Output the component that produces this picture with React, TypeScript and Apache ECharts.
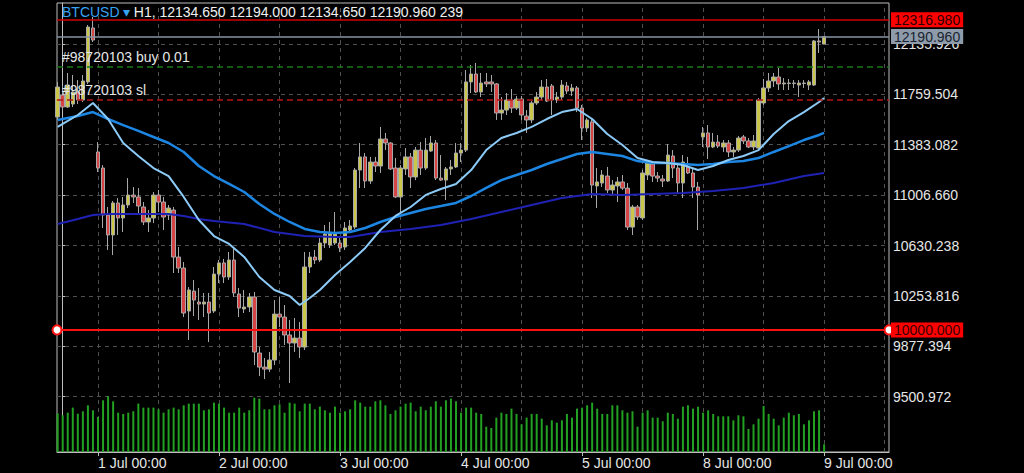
import { useEffect, useRef } from 'react';
import * as echarts from 'echarts';

// ---- data (hourly bars, index 0 = 30 Jun 17:00; first bar index is -1) ----
const FIRST_INDEX = -1;
const opens = [11590,11754,11665,11687,11777,11717,11852,12255,11329,11209,10858,10709,10948,10836,10933,11007,10993,10918,10806,10836,11007,10955,10858,10895,10544,10462,10141,10290,10208,10193,10208,10141,10417,10500,10395,10522,10268,10156,10171,10246,9827,9722,9707,9775,10118,10096,9962,9902,9939,9872,10470,10544,10522,10649,10634,10649,10649,10619,10746,10768,11194,11292,11112,11254,11224,11426,11396,11209,10993,11202,11292,11142,11343,11209,11336,11396,11134,11119,11202,11217,11321,11343,11852,11911,11777,11852,11852,11837,11620,11642,11717,11657,11724,11597,11568,11695,11739,11814,11822,11717,11739,11822,11784,11807,11657,11508,11553,11075,11097,11149,11045,11075,11105,11059,10768,10918,10836,11157,11239,11149,11127,11112,11299,11209,11097,11217,11172,11067,11441,11471,11366,11403,11366,11396,11329,11343,11441,11411,11366,11358,11695,11807,11859,11889,11837,11840,11844,11829,11840,11829,11829,12158,12134.65];
const closes = [11814,11665,11829,11777,11717,11859,12262,12165,11209,10858,10709,10948,10836,10933,11007,10993,10925,10806,10836,11007,10955,10843,10910,10544,10462,10126,10298,10223,10193,10208,10126,10417,10500,10395,10522,10276,10163,10171,10246,9835,9722,9707,9775,10118,10096,9962,9902,9939,9872,10470,10544,10522,10649,10716,10724,10724,10612,10761,10776,11194,11292,11112,11254,11224,11426,11396,11202,10993,11209,11292,11142,11343,11209,11343,11396,11134,11119,11202,11217,11321,11343,11852,11911,11777,11844,11837,11837,11620,11642,11717,11657,11724,11605,11568,11695,11739,11814,11710,11717,11739,11829,11784,11807,11657,11508,11568,11082,11105,11157,11045,11082,11105,11059,10768,10918,10843,11172,11247,11149,11134,11112,11306,11209,11097,11254,11172,11067,11007,11471,11366,11403,11373,11396,11329,11343,11433,11411,11366,11411,11717,11807,11859,11889,11837,11844,11844,11840,11844,11844,11852,12158,12150,12190.96];
const lows = [11568,11642,11657,11665,11687,11702,11837,12150,11179,10761,10597,10559,10709,10731,10910,10948,10858,10783,10731,10798,10880,10746,10821,10425,10425,10096,9924,10103,10074,10096,9909,10126,10350,10350,10373,10246,10096,10126,10133,9737,9655,9633,9685,9737,10021,9887,9603,9835,9790,9850,10425,10492,10507,10612,10612,10634,10582,10597,10731,10754,11059,11059,11090,11179,11172,11343,11194,10985,10880,11157,11059,11119,11157,11194,11329,11119,11112,10970,11157,11209,11254,11329,11769,11769,11739,11814,11777,11568,11568,11605,11620,11642,11568,11471,11545,11680,11717,11702,11605,11695,11717,11762,11747,11627,11418,11478,10985,10910,11067,11022,11007,10955,11045,10746,10709,10821,10821,11119,11105,11105,11067,11105,11134,11022,10985,11164,10985,10746,11366,11276,11358,11358,11329,11291,11291,11329,11388,11358,11343,11343,11680,11777,11814,11792,11792,11792,11807,11739,11807,11792,11822,12068,12134.65];
const highs = [11852,11822,11919,11904,11866,11904,12277,12337,11403,11231,10918,10963,10985,10993,11134,11067,11059,10955,10895,11030,11045,10993,10933,10918,10619,10507,10320,10373,10313,10276,10276,10470,10522,10530,10582,10612,10313,10298,10276,10283,9872,9790,9835,10223,10246,10186,10074,10089,10059,10582,10582,10597,10686,10783,10806,10880,10701,10806,10821,11209,11396,11321,11292,11292,11516,11471,11403,11284,11231,11358,11321,11366,11403,11433,11448,11418,11306,11217,11269,11396,11396,11941,11979,11994,11919,11919,11904,11844,11739,11769,11799,11747,11747,11642,11710,11777,11866,11874,11837,11777,11866,11852,11837,11822,11680,11582,11582,11209,11194,11217,11119,11142,11157,11097,10933,10933,11194,11269,11254,11179,11157,11388,11343,11246,11306,11292,11209,11105,11516,11530,11471,11456,11418,11418,11366,11448,11456,11433,11456,11732,11874,11919,11919,11956,11881,11874,11866,11866,11866,11866,12165,12247,12194];
const volumes = [1200,
  1144,1227,1383,1196,1269,1456,1300,1092,1612,1737,
  1581,1227,1186,1227,1269,1508,1383,1383,1383,1331,
  1227,1331,1383,1331,1456,1508,1508,1508,1300,1331,
  1539,1508,1383,1227,1227,1383,1227,1300,1695,1664,
  1331,1331,1456,1487,1227,1539,1508,1269,1508,1508,
  1331,1414,1300,1227,1414,1227,1269,1331,1612,1539,
  1414,1414,1581,1612,1456,1186,1300,1414,1508,1539,
  1269,1414,1300,1414,1581,1414,1612,1664,1581,1227,
  1383,1383,
  1227,1186,790,749,1071,1227,1186,1352,1186,863,
  1071,1186,1186,1040,832,988,915,988,1186,1071,
  1352,1383,1456,1539,1352,1186,1186,1456,1456,1300,
  1227,1269,790,1227,1300,1071,1071,957,1227,1186,
  1040,1414,1456,1352,1414,1227,1300,1186,1113,1113,
  1113,988,1144,1113,718,863,1040,1435,1186,1040,
  832,1071,1227,1144,1186,863,988,1269,1300,239];

const maFast = [[-1,11516],[0,11538],[3,11605],[6,11695],[9,11575],[12,11396],[15,11299],[18,11209],[21,11149],[24,10993],[27,10821],[30,10701],[33,10642],[36,10545],[39,10395],[42,10298],[45,10253],[47,10186],[49,10238],[51,10298],[54,10410],[57,10507],[60,10612],[63,10746],[66,10851],[69,10918],[72,11008],[75,11052],[78,11090],[81,11194],[84,11343],[87,11433],[90,11471],[93,11516],[96,11575],[99,11627],[102,11650],[105,11575],[108,11463],[111,11381],[114,11284],[117,11254],[120,11247],[123,11232],[126,11194],[129,11224],[132,11269],[135,11299],[138,11343],[141,11463],[144,11560],[147,11627],[150,11702],[151,11732]];
const maMid = [[-1,11568],[3,11597],[6,11627],[9,11575],[12,11530],[15,11486],[18,11441],[21,11396],[24,11329],[27,11224],[30,11149],[33,11090],[36,11030],[39,10940],[42,10866],[45,10806],[48,10754],[51,10731],[54,10724],[57,10731],[60,10761],[63,10806],[66,10843],[69,10873],[72,10903],[75,10925],[78,10948],[81,11000],[84,11060],[87,11119],[90,11157],[93,11194],[96,11239],[99,11276],[102,11314],[105,11329],[108,11314],[111,11299],[114,11261],[117,11247],[120,11247],[123,11239],[126,11232],[129,11239],[132,11254],[135,11261],[138,11284],[141,11329],[144,11373],[147,11418],[150,11456],[151,11471]];
const maSlow = [[-1,10791],[3,10828],[6,10858],[9,10866],[15,10866],[21,10866],[24,10851],[27,10828],[30,10813],[36,10791],[42,10731],[48,10701],[54,10694],[57,10694],[63,10731],[69,10754],[75,10783],[81,10828],[87,10881],[93,10933],[99,10985],[105,11015],[111,11008],[117,11015],[123,11022],[129,11037],[135,11060],[141,11097],[147,11149],[151,11172]];

const dayTickIdx = [7, 31, 55, 79, 103, 127, 151];
const dayLabels = ['1 Jul 00:00', '2 Jul 00:00', '3 Jul 00:00', '4 Jul 00:00', '5 Jul 00:00', '8 Jul 00:00', '9 Jul 00:00'];
const halfDayGridIdx = [7, 19, 31, 43, 55, 67, 79, 91, 103, 115, 127, 139, 151, 163];
const priceTicks = [9500.972, 9877.394, 10253.816, 10630.238, 11006.66, 11383.082, 11759.504, 12135.926];

const symbolName = 'BTCUSD';
const timeframe = 'H1';
const lastVolume = 239;
const alertHigh = 12316.98;
const bidPrice = 12190.96;
const orderTicket = '#98720103';
const buyPrice = 11966;
const buyLots = '0.01';
const slPrice = 11717;
const alertLow = 10000;

const X_MIN = -1.13;
const X_MAX = 163.87;
const Y_MIN = 9088;
const Y_MAX = 12441.6;

export default function App() {
  const ref = useRef<HTMLDivElement>(null);
  useEffect(() => {
    document.body.style.margin = '0';
    document.body.style.background = '#000';
    const chart = echarts.init(ref.current!, null, { renderer: 'svg' });
    const font = '"Liberation Sans", Arial, sans-serif';
    const candles = opens.map((o, k) => [k + FIRST_INDEX, o, closes[k], lows[k], highs[k]]);
    const vols = volumes.map((v, k) => [k + FIRST_INDEX, v]);
    const last = opens.length - 1;
    const header = `${timeframe}, ${opens[last].toFixed(3)} ${highs[last].toFixed(3)} ${lows[last].toFixed(3)} ${closes[last].toFixed(3)} ${lastVolume}`;
    const frame = '#bdbdbd';
    const txt = '#e6e6e6';
    const gridLine = { color: '#505050', type: [4, 4], width: 1 };
    const tag = (text: string, bg: string, fg: string) => ({
      show: true, position: 'end', distance: 2, formatter: text,
      backgroundColor: bg, color: fg, fontSize: 14, fontFamily: font,
      padding: [1, 3, 0, 3], lineHeight: 14,
    });
    const orderLabel = (text: string) => ({
      show: true, position: 'insideStartTop', distance: [5, 3], formatter: text,
      color: txt, fontSize: 14, fontFamily: font,
    });
    const option: any = {
      animation: false,
      backgroundColor: '#000',
      grid: { left: 57, right: 135, top: 3, bottom: 21, show: true, borderColor: frame, borderWidth: 1, backgroundColor: 'transparent' },
      xAxis: {
        type: 'value', min: X_MIN, max: X_MAX,
        axisLine: { show: true, lineStyle: { color: frame } },
        axisTick: { show: true, customValues: dayTickIdx, length: 4, lineStyle: { color: frame } },
        axisLabel: {
          customValues: dayTickIdx,
          formatter: (v: number) => dayLabels[dayTickIdx.indexOf(Math.round(v))] ?? '',
          color: txt, fontSize: 14, fontFamily: font, align: 'left', margin: 4,
        },
        splitLine: { show: false },
      },
      yAxis: [
        {
          type: 'value', position: 'right', min: Y_MIN, max: Y_MAX,
          axisLine: { show: true, lineStyle: { color: frame } },
          axisTick: { show: true, customValues: priceTicks, length: 3, lineStyle: { color: frame } },
          axisLabel: {
            customValues: priceTicks,
            formatter: (v: number) => v.toFixed(3),
            color: txt, fontSize: 14, fontFamily: font, margin: 4,
          },
          splitLine: { show: false },
        },
        { type: 'value', min: 0, max: 14000, show: false },
      ],
      graphic: [
        {
          type: 'text', left: 62, top: 5, z: 100,
          style: {
            text: `{a|${symbolName} ▾} {b|${header}}`,
            rich: {
              a: { fill: '#36a2f2', fontSize: 14, fontFamily: font },
              b: { fill: '#f0f0f0', fontSize: 14, fontFamily: font },
            },
          },
        },
      ],
      series: [
        {
          name: 'volume', type: 'bar', xAxisIndex: 0, yAxisIndex: 1, data: vols, barWidth: 2,
          itemStyle: { color: '#22a022' },
          markLine: {
            silent: true, z: 1, symbol: ['none', 'none'], label: { show: false },
            lineStyle: gridLine,
            data: halfDayGridIdx.map((v) => ({ xAxis: v })),
          },
        },
        {
          name: 'grid', type: 'line', xAxisIndex: 0, yAxisIndex: 0, z: 1,
          data: [[X_MIN, Y_MIN]], symbol: 'none', showSymbol: false, lineStyle: { width: 0, opacity: 0 },
          markLine: {
            silent: true, z: 1, symbol: ['none', 'none'], label: { show: false },
            lineStyle: gridLine,
            data: priceTicks.map((v) => ({ yAxis: v })),
          },
        },
        {
          name: 'price', type: 'candlestick', data: candles, encode: { x: 0, y: [1, 2, 3, 4] },
          barWidth: 4,
          itemStyle: { color: '#c9c64a', color0: '#d64545', borderColor: '#a8a8a8', borderColor0: '#a8a8a8', borderColorDoji: '#cfcfcf', borderWidth: 1 },
          markLine: {
            silent: true, symbol: ['none', 'none'],
            data: [
              { yAxis: alertHigh, lineStyle: { color: '#d00000', width: 1.5, type: 'solid' }, label: tag(alertHigh.toFixed(3), '#ff0000', '#2a0000') },
              { yAxis: bidPrice, lineStyle: { color: '#8795a6', width: 1.5, type: 'solid' }, label: tag(bidPrice.toFixed(3), '#8d9bab', '#1a232e') },
              { yAxis: buyPrice, lineStyle: { color: '#177a17', width: 1.5, type: [6, 4] }, label: orderLabel(`${orderTicket} buy ${buyLots}`) },
              { yAxis: slPrice, lineStyle: { color: '#b31414', width: 1.5, type: [6, 4] }, label: orderLabel(`${orderTicket} sl`) },
              { yAxis: alertLow, lineStyle: { color: '#ff1010', width: 2, type: 'solid' }, label: tag(alertLow.toFixed(3), '#ff0000', '#3a0000') },
            ],
          },
          markPoint: {
            silent: true, symbol: 'circle', symbolSize: 9, label: { show: false },
            itemStyle: { color: '#ffffff', borderColor: '#ff1010', borderWidth: 2 },
            data: [{ coord: [X_MIN, alertLow] }, { coord: [X_MAX, alertLow] }],
          },
        },
        { name: 'maSlow', type: 'line', data: maSlow, showSymbol: false, symbol: 'none', lineStyle: { color: '#1f22b5', width: 2 } },
        { name: 'maMid', type: 'line', data: maMid, showSymbol: false, symbol: 'none', lineStyle: { color: '#1c86e2', width: 2.5 } },
        { name: 'maFast', type: 'line', data: maFast, showSymbol: false, symbol: 'none', lineStyle: { color: '#8ccaf7', width: 2 } },
      ],
    };
    chart.setOption(option);
    return () => chart.dispose();
  }, []);
  return <div ref={ref} style={{ position: 'fixed', left: 0, top: 0, width: 1024, height: 473, background: '#000' }} />;
}
